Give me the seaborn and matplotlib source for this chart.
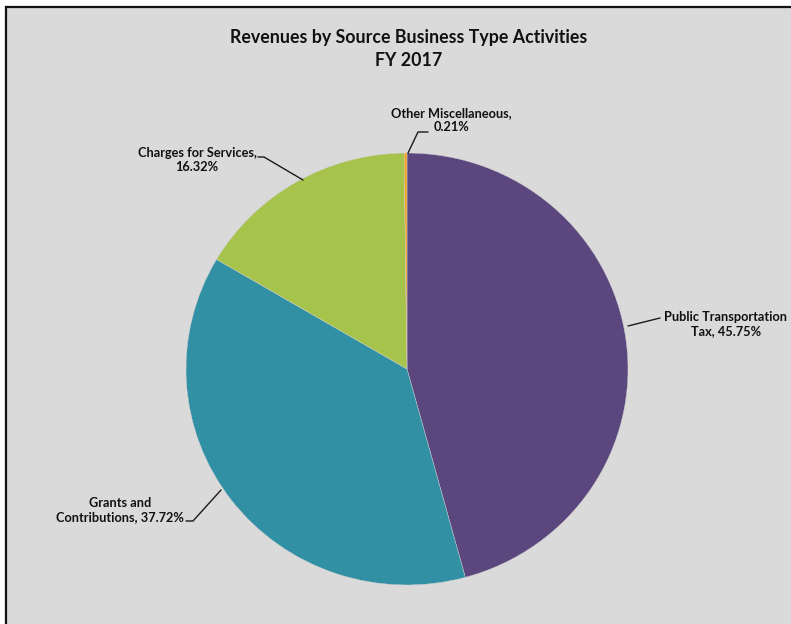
import matplotlib
matplotlib.use("Agg")
import matplotlib.pyplot as plt
import matplotlib.patches as mpatches
import seaborn as sns

# Revenue shares by source (percent)
categories = ["Public Transportation Tax", "Grants and Contributions", "Charges for Services", "Other Miscellaneous"]
shares = [45.75, 37.72, 16.32, 0.21]
label_texts = [
    "Public Transportation\nTax, 45.75%",
    "Grants and\nContributions, 37.72%",
    "Charges for Services,\n16.32%",
    "Other Miscellaneous,\n0.21%",
]
colors = ["#5b467d", "#3190a4", "#a6c34c", "#f2a51f"]

sns.set_theme(style="white")
plt.rcParams["font.family"] = ["Lato", "DejaVu Sans"]

W, H = 791, 624
fig = plt.figure(figsize=(W / 100, H / 100), dpi=100, facecolor="white")

# chart area panel with dark border on top/left
panel = mpatches.Rectangle((6, -3), W + 10, H - 7 + 3, transform=None,
                           facecolor="#dadada", edgecolor="#111111", linewidth=1.6,
                           zorder=-10)
fig.patches.append(panel)

# pie axes, placed in pixel units
cx, cy, rx, ry = 407, 369, 221, 216
ax = fig.add_axes([(cx - rx) / W, (H - cy - ry) / H, 2 * rx / W, 2 * ry / H])
ax.set_zorder(1)
ax.patch.set_alpha(0)
palette = sns.color_palette(colors)
ax.pie(shares, colors=palette, startangle=90, counterclock=False,
       wedgeprops=dict(linewidth=0.3, edgecolor="#d0d0d0"))
ax.set_aspect("auto")
ax.set_xlim(-1, 1)
ax.set_ylim(-1, 1)
ax.axis("off")


def to_data(px, py):
    return (px - cx) / rx, (cy - py) / ry


# leader lines (pixel paths converted to pie data units)
leaders = [
    [(628, 326), (660, 318)],
    [(221, 490), (193, 521), (186, 521)],
    [(303, 180), (264, 157), (258, 157)],
    [(408, 153), (418, 132), (428, 132)],
]
for path in leaders:
    xs, ys = zip(*[to_data(*p) for p in path])
    ax.plot(xs, ys, color="#1a1a1a", lw=1.0, clip_on=False)

# label positions (pixel centres)
label_pos = [(726, 324), (120, 510), (197, 160), (451, 120)]
for (px, py), txt in zip(label_pos, label_texts):
    fig.text(px / W, 1 - py / H, txt, ha="center", va="center",
             fontsize=9.2, fontweight="bold", color="#111111", linespacing=1.25,
             zorder=5)

fig.text(409 / W, 1 - 38 / H, "Revenues by Source Business Type Activities",
         ha="center", va="center", fontsize=12.8, fontweight="bold", color="#111111")
fig.text(409 / W, 1 - 60 / H, "FY 2017",
         ha="center", va="center", fontsize=12.8, fontweight="bold", color="#111111")

fig.savefig("out.png", dpi=100, facecolor="white")
